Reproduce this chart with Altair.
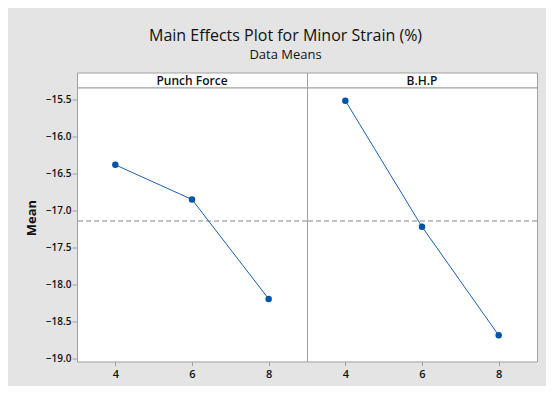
import altair as alt
import pandas as pd

levels = [4, 6, 8]
punch_force = [-16.385, -16.854, -18.20]
bhp = [-15.516, -17.223, -18.692]
factors = ["Punch Force", "B.H.P"]
y_ticks = [-15.5, -16.0, -16.5, -17.0, -17.5, -18.0, -18.5, -19.0]
x_ticks = [4, 6, 8]

FONT = "Open Sans"
BLUE = "#0054a6"
BORDER = "#a0a0a0"
W = 230
H = 274
H_HEAD = 15

grand_mean = sum(punch_force + bhp) / len(punch_force + bhp)


def header(name):
    return (
        alt.Chart(pd.DataFrame({"f": [name]}))
        .mark_text(font=FONT, fontSize=12, fontWeight=600, color="#111111", baseline="middle")
        .encode(text="f:N", x=alt.value(W / 2), y=alt.value(H_HEAD / 2 + 0.5))
        .properties(width=W, height=H_HEAD)
    )


def plot(values, show_y):
    df = pd.DataFrame({"level": levels, "mean": values})
    ref = pd.DataFrame({"grand": [grand_mean]})
    xenc = alt.X(
        "level:Q",
        scale=alt.Scale(domain=[3, 9], nice=False, zero=False),
        axis=alt.Axis(values=x_ticks, title=None, grid=False, domain=False,
                      tickColor=BORDER, tickSize=4, labelFont=FONT, labelFontSize=11,
                      labelFontWeight=600, labelPadding=3, labelColor="#111111"),
    )
    yscale = alt.Scale(domain=[-19.047, -15.338], nice=False, zero=False)
    if show_y:
        yaxis = alt.Axis(values=y_ticks, format=".1f", title="Mean", grid=False, domain=False,
                         tickColor=BORDER, tickSize=5, labelFont=FONT, labelFontSize=10,
                         labelFontWeight=600, labelPadding=1, labelColor="#111111",
                         titleFont=FONT, titleFontSize=13, titleFontWeight="bold",
                         titleColor="#111111", titlePadding=7, titleY=130)
    else:
        yaxis = None
    base = alt.Chart(df).encode(x=xenc, y=alt.Y("mean:Q", scale=yscale, axis=yaxis))
    rule = alt.Chart(ref).mark_rule(color="#b0b0b0", strokeDash=[5, 3], strokeWidth=1.4).encode(
        y=alt.Y("grand:Q", scale=yscale, axis=yaxis)
    )
    line = base.mark_line(color="#1c60b0", strokeWidth=1)
    pts = base.mark_circle(color=BLUE, size=42, opacity=1)
    return alt.layer(rule, line, pts).properties(width=W, height=H)


chart = (
    alt.concat(header(factors[0]), header(factors[1]),
               plot(punch_force, True), plot(bhp, False),
               columns=2, spacing=0, bounds="flush")
    .properties(
        title=alt.TitleParams(
            text="Main Effects Plot for Minor Strain (%)",
            subtitle="Data Means",
            font=FONT, fontSize=16, fontWeight="normal", color="#111111",
            subtitleFont=FONT, subtitleFontSize=13, subtitleFontWeight="normal",
            subtitleColor="#111111", subtitlePadding=5,
            anchor="middle", offset=10, dx=4,
        ),
        padding={"left": 16, "top": 19.5, "right": 7, "bottom": 5},
        background="#e4e4e4",
    )
    .configure_view(fill="white", stroke=BORDER, strokeWidth=1)
)

chart.save("out.html", embed_options={"renderer": "svg", "actions": False})
